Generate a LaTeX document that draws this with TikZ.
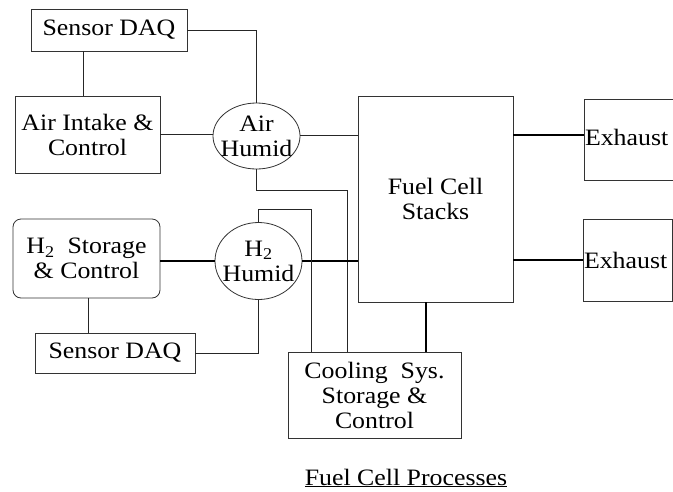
\documentclass[tikz,border=0pt]{standalone}
\usepackage{fontspec}
\setmainfont{Liberation Serif}[FakeStretch=1.1]
\usetikzlibrary{shapes.geometric}
\tikzset{
	txt/.style = {align=center, inner sep=1pt, font=\fontsize{23.5}{25}\selectfont},
	blk/.style = {txt, draw=black!80, line width=0.8pt},
	hum/.style = {blk, ellipse, inner sep=0pt},
	wire/.style = {line width=0.8pt, black!85},
	pipe/.style = {line width=1.8pt, black}
}
\begin{document}
\begin{tikzpicture}[x=1pt, y=-1pt]
		\useasboundingbox (0,0) rectangle (673,491);
		% boxes
		\node[blk, minimum width=156pt, minimum height=42pt] (daqA) at (109,30) {Sensor DAQ};
		\node[blk, minimum width=145pt, minimum height=77pt] (intake) at (87.5,134.5) {Air Intake \&\\Control};
		\node[hum, minimum width=87pt, minimum height=66pt] (airhum) at (256.5,136) {};
		\node[txt] (airhumtxt) at (airhum) {Air\\Humid};
		\node[blk, rounded corners=8pt, minimum width=147pt, minimum height=79pt] (h2st) at (86.5,258.5) {H\textsubscript{2}\ \ Storage\\\& Control};
		\node[hum, minimum width=87pt, minimum height=77pt] (h2hum) at (258.5,261) {};
		\node[txt] (h2humtxt) at (h2hum) {H\textsubscript{2}\\Humid};
		\node[blk, minimum width=160pt, minimum height=40pt] (daqH) at (115,353) {Sensor DAQ};
		\node[blk, minimum width=155pt, minimum height=206pt] (stack) at (435.5,199) {Fuel Cell\\Stacks};
		\node[blk, minimum width=91pt, minimum height=81pt, text width=89pt, align=left] (exA) at (629.5,139.5) {\raisebox{4.5pt}{Exhaust}};
		\node[blk, minimum width=89pt, minimum height=82pt, text width=87pt, align=left] (exB) at (627.5,260) {Exhaust};
		\node[blk, minimum width=173pt, minimum height=86pt] (cool) at (374.5,395) {Cooling\ \ Sys.\\Storage \&\\Control};
		\node[txt] (caption) at (406,478) {\underline{Fuel Cell Processes}};
		% air side
		\draw[wire] (daqA.east) -| (airhum.north);
		\draw[wire] ([xshift=-26pt]daqA.south) -- ([xshift=-26pt]daqA.south |- intake.north);
		\draw[wire] (intake.east) -- (intake.east -| airhum.west);
		\draw[wire] ([yshift=1pt]airhum.east) -- ([yshift=1pt]airhum.east -| stack.west);
		\coordinate (airret) at (347,190);
		\draw[wire] (airhum.south) |- (airret) -- (airret |- cool.north);
		% hydrogen side
		\draw[pipe] (h2st.east |- h2hum.west) -- (h2hum.west);
		\draw[pipe] (h2hum.east) -- (h2hum.east -| stack.west);
		\coordinate (h2ret) at (311,209);
		\draw[wire] (h2hum.north) |- (h2ret) -- (h2ret |- cool.north);
		\draw[wire] (h2hum.south) |- (daqH.east);
		\draw[wire] ([xshift=1.5pt]h2st.south) -- ([xshift=1.5pt]h2st.south |- daqH.north);
		% stack outputs
		\draw[pipe] ([yshift=4.5pt]exA.west -| stack.east) -- ([yshift=4.5pt]exA.west);
		\draw[pipe] (exB.west -| stack.east) -- (exB.west);
		\draw[pipe] ([xshift=-9.5pt]stack.south) -- ([xshift=-9.5pt]stack.south |- cool.north);
\end{tikzpicture}
\end{document}
